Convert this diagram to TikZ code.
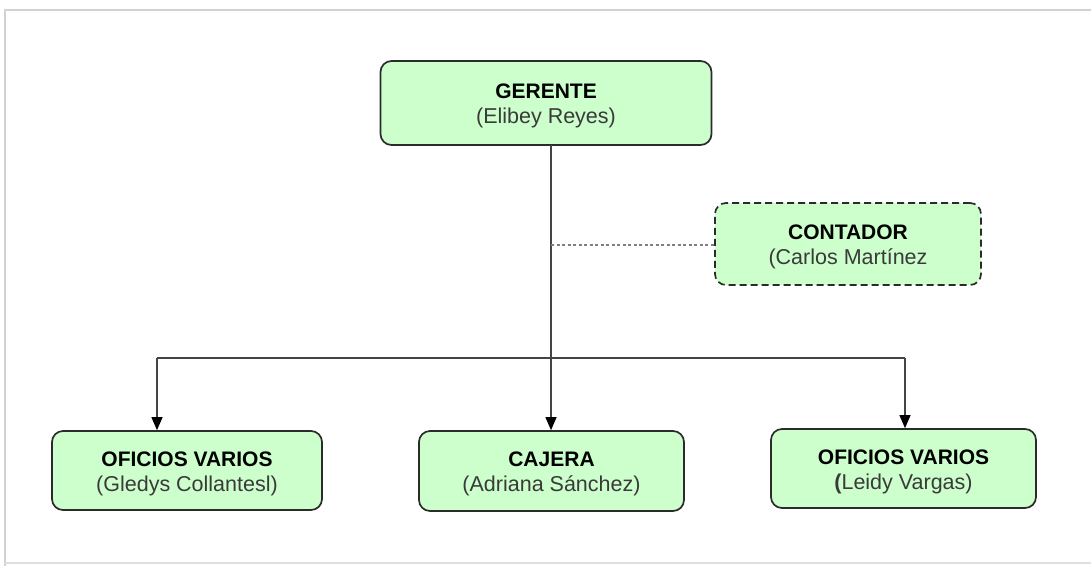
\documentclass[tikz,border=0pt]{standalone}
\usepackage{fontspec}
\setmainfont{Liberation Sans}
\usetikzlibrary{arrows.meta}
\definecolor{boxfill}{HTML}{CCFFCC}
\definecolor{boxline}{HTML}{2B2B2B}
\definecolor{nametext}{HTML}{3A3A3A}
\definecolor{linegray}{HTML}{444444}
\newcommand{\ttl}[1]{{\fontsize{21}{25}\selectfont\bfseries\rule{0pt}{21pt}#1}}
\newcommand{\nme}[1]{{\fontsize{21.5}{25}\selectfont\color{nametext}#1}}
\begin{document}
\begin{tikzpicture}[x=1pt,y=-1pt,
  orgbox/.style={draw=boxline, line width=1.7pt, fill=boxfill, rounded corners=11pt,
    minimum width=#1, align=center, inner sep=0pt, font=\fontsize{21}{25}\selectfont},
  orgbox/.default=266pt,
  conn/.style={draw=linegray, line width=1.1pt},
  arr/.style={conn, -{Triangle[width=11pt,length=13pt,fill=black,color=black]}},
]
\useasboundingbox (0,0) rectangle (1091,566);
\draw[gray!35, line width=2pt] (1091,10) -- (5,10) -- (5,566);
\draw[gray!25, line width=1.5pt] (5,563) -- (1091,563);

\node[orgbox=331pt, minimum height=84pt] (ger) at (546,103)
  {\ttl{GERENTE}\\\nme{(Elibey Reyes)}};
\node[orgbox=266pt, minimum height=82pt, dashed, dash pattern=on 7pt off 4pt] (con) at (848,244)
  {\ttl{CONTADOR}\\\nme{(Carlos Martínez}};
\node[orgbox=270pt, minimum height=79pt] (of1) at (187,470.5)
  {\ttl{OFICIOS VARIOS}\\\nme{(Gledys Collantesl)}};
\node[orgbox=265pt, minimum height=80pt] (caj) at (551.5,471)
  {\ttl{CAJERA}\\\nme{(Adriana Sánchez)}};
\node[orgbox=265pt, minimum height=79pt] (of2) at (903.5,468.5)
  {\ttl{OFICIOS VARIOS}\\\nme{\textbf{(}Leidy Vargas)}};

\coordinate (top) at (551,145);
\coordinate (dj) at (551,245);
\coordinate (lc) at (157,358);
\coordinate (rc) at (905,358);

\draw[arr] (top) -- (caj.north -| top);
\draw[conn, dash pattern=on 3pt off 2.5pt, gray] (dj) -- (con.west |- dj);
\draw[conn] (lc) -- (rc);
\draw[arr] (lc) -- (of1.north -| lc);
\draw[arr] (rc) -- (of2.north -| rc);
\end{tikzpicture}
\end{document}
